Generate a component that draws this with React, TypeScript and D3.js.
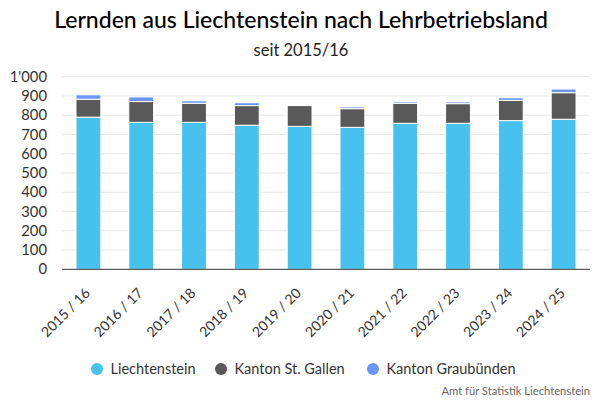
import React from "react";
import * as d3 from "d3";

const categories = ["2015 / 16", "2016 / 17", "2017 / 18", "2018 / 19", "2019 / 20", "2020 / 21", "2021 / 22", "2022 / 23", "2023 / 24", "2024 / 25"];
const liechtenstein = [790, 763, 763, 748, 742, 737, 758, 758, 772, 779];
const stGallen = [93, 108, 99, 102, 108, 97, 104, 102, 105, 138];
const graubuenden = [23, 24, 13, 15, 0, 9, 8, 9, 14, 19];
const seriesNames = ["Liechtenstein", "Kanton St. Gallen", "Kanton Graubünden"];
const seriesColors = ["#47c2ef", "#595959", "#6b96fb"];
const yTicks = [0, 100, 200, 300, 400, 500, 600, 700, 800, 900, 1000];

const W = 600, H = 400;
const FONT = "Lato, 'Noto Sans', sans-serif";

export default function App() {
  if (typeof document !== "undefined") document.body.style.margin = "0";
  const x = d3.scaleBand<string>().domain(categories).range([62, 590]).paddingInner(0.53).paddingOuter(0.265);
  const y = d3.scaleLinear().domain([0, 1000]).range([269.3, 76.7]);
  const data = categories.map((c, i) => ({ cat: c, li: liechtenstein[i], sg: stGallen[i], gr: graubuenden[i] }));
  const stack = d3.stack<any>().keys(["li", "sg", "gr"])(data);
  const fmt = (v: number) => d3.format(",")(v).replace(/,/g, "'");
  const legendX = [97, 221, 373];

  return (
    <svg width={W} height={H} style={{ display: "block", fontFamily: FONT }}>
      <rect width={W} height={H} fill="#fff" />
      <text x={301} y={28} textAnchor="middle" fontSize={23} fill="#000" fontWeight={500}>
        Lernden aus Liechtenstein nach Lehrbetriebsland
      </text>
      <text x={301} y={56} textAnchor="middle" fontSize={16.5} fill="#222">seit 2015/16</text>
      {yTicks.map((t) => (
        <g key={t}>
          {t > 0 && <line x1={62} x2={590} y1={y(t)} y2={y(t)} stroke="#e6e6e6" strokeWidth={1} />}
          <text x={47} y={y(t)} dy="0.35em" textAnchor="end" fontSize={14.8} fill="#333">{fmt(t)}</text>
        </g>
      ))}
      {stack.map((s, si) => (
        <g key={si} fill={seriesColors[si]}>
          {s.map((d, i) => {
            const h = y(d[0]) - y(d[1]);
            if (h <= 0) return null;
            return (
              <rect key={i} x={x(categories[i])} width={x.bandwidth()} y={y(d[1])} height={h} stroke="#fff" strokeWidth={1} />
            );
          })}
        </g>
      ))}
      <line x1={62} x2={590} y1={y(0)} y2={y(0)} stroke="#333" strokeWidth={1} />
      {categories.map((c) => {
        const cx = (x(c) as number) + x.bandwidth() / 2 + 2.5;
        return (
          <text key={c} transform={`translate(${cx},${294}) rotate(-45)`} textAnchor="end" fontSize={14} fill="#333">{c}</text>
        );
      })}
      {seriesNames.map((n, i) => (
        <g key={n}>
          <circle cx={legendX[i]} cy={369} r={6} fill={seriesColors[i]} />
          <text x={legendX[i] + 13.5} y={369} dy="0.35em" fontSize={14.5} fill="#333">{n}</text>
        </g>
      ))}
      <text x={590} y={395} textAnchor="end" fontSize={11.2} fill="#666">Amt für Statistik Liechtenstein</text>
    </svg>
  );
}
